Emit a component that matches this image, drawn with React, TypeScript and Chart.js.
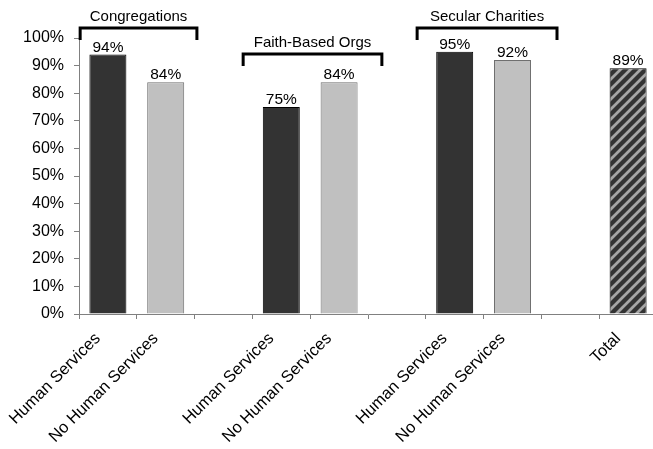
import React, { useEffect, useRef } from "react";
import { Chart, registerables } from "chart.js";

Chart.register(...registerables);

const categories = [
  "Human Services",
  "No Human Services",
  "",
  "Human Services",
  "No Human Services",
  "",
  "Human Services",
  "No Human Services",
  "",
  "Total",
];
const values: (number | null)[] = [94, 84, null, 75, 84, null, 95, 92, null, 89];
const barKinds = ["dark", "light", "none", "dark", "light", "none", "dark", "light", "none", "total"];
const groupNames = ["Congregations", "Faith-Based Orgs", "Secular Charities"];
const groupMembers = [
  [0, 1],
  [3, 4],
  [6, 7],
];
const yTicks = [0, 10, 20, 30, 40, 50, 60, 70, 80, 90, 100];

// bracket drawing layout (in category / value units)
const bracketLayout = [
  { left: 0.48, right: 0.54, level: 103.6 },
  { left: 0.66, right: 0.74, level: 94.2 },
  { left: 0.65, right: 0.77, level: 103.6 },
];

const FONT = "'Liberation Sans', Arial, sans-serif";

function makePattern(): CanvasPattern | string {
  const size = 10;
  const c = document.createElement("canvas");
  c.width = size;
  c.height = size;
  const g = c.getContext("2d");
  if (!g) return "#333";
  g.fillStyle = "#333333";
  g.fillRect(0, 0, size, size);
  g.strokeStyle = "#a6a6a6";
  g.lineWidth = 2.8;
  g.beginPath();
  g.moveTo(-2, size + 2);
  g.lineTo(size + 2, -2);
  g.moveTo(-3, 3);
  g.lineTo(3, -3);
  g.moveTo(size - 3, size + 3);
  g.lineTo(size + 3, size - 3);
  g.stroke();
  const p = g.createPattern(c, "repeat");
  return p || "#333";
}

const labelPlugin = {
  id: "valueLabels",
  afterDatasetsDraw(chart: any) {
    const ctx = chart.ctx;
    const meta = chart.getDatasetMeta(0);
    ctx.save();
    ctx.font = `15.5px ${FONT}`;
    ctx.fillStyle = "#000";
    ctx.textAlign = "center";
    ctx.textBaseline = "alphabetic";
    meta.data.forEach((el: any, i: number) => {
      const v = values[i];
      if (v == null) return;
      ctx.fillText(`${v}%`, el.x, el.y - 3);
    });
    ctx.restore();
  },
};

const bracketPlugin = {
  id: "brackets",
  afterDraw(chart: any) {
    const ctx = chart.ctx;
    const xs = chart.scales.x;
    const ys = chart.scales.y;
    const cw = xs.getPixelForValue(1) - xs.getPixelForValue(0);
    ctx.save();
    groupNames.forEach((name, gi) => {
      const [a, b] = groupMembers[gi];
      const lay = bracketLayout[gi];
      const x1 = xs.getPixelForValue(a) - lay.left * cw;
      const x2 = xs.getPixelForValue(b) + lay.right * cw;
      const yTop = ys.getPixelForValue(lay.level);
      const yBot = yTop + 12;
      ctx.strokeStyle = "#000";
      ctx.lineWidth = 3;
      ctx.lineCap = "butt";
      ctx.lineJoin = "miter";
      ctx.beginPath();
      ctx.moveTo(x1, yBot);
      ctx.lineTo(x1, yTop);
      ctx.lineTo(x2, yTop);
      ctx.lineTo(x2, yBot);
      ctx.stroke();
      ctx.font = `15px ${FONT}`;
      ctx.fillStyle = "#000";
      ctx.textAlign = "center";
      ctx.textBaseline = "alphabetic";
      ctx.fillText(name, (x1 + x2) / 2, yTop - 7);
    });
    ctx.restore();
  },
};

export default function App() {
  const ref = useRef<HTMLCanvasElement>(null);
  useEffect(() => {
    if (!ref.current) return;
    const pattern = makePattern();
    const bg = barKinds.map((k) => (k === "dark" ? "#333333" : k === "light" ? "#c0c0c0" : k === "total" ? pattern : "transparent"));
    const bc = barKinds.map((k) => (k === "light" ? "#6f6f6f" : "#000000"));
    const chart = new Chart(ref.current, {
      type: "bar",
      data: {
        labels: categories,
        datasets: [
          {
            data: values as any,
            backgroundColor: bg as any,
            borderColor: bc,
            borderWidth: 1,
            barPercentage: 0.64,
            categoryPercentage: 1,
          },
        ],
      },
      options: {
        animation: false,
        responsive: false,
        maintainAspectRatio: false,
        layout: { padding: { left: 22, top: 38, right: 8, bottom: 0 } },
        plugins: { legend: { display: false }, tooltip: { enabled: false } },
        scales: {
          x: {
            grid: {
              display: true,
              drawOnChartArea: false,
              drawTicks: true,
              tickLength: 5,
              color: "#808080",
              offset: true,
            },
            border: { display: true, color: "#808080", width: 1 },
            ticks: {
              color: "#000",
              font: { family: FONT, size: 16.5 },
              minRotation: 45,
              maxRotation: 45,
              autoSkip: false,
              padding: 10,
              labelOffset: -10,
            },
            afterFit(s: any) {
              s.height = 135;
            },
          },
          y: {
            min: 0,
            max: 100,
            afterBuildTicks(s: any) {
              s.ticks = yTicks.map((v) => ({ value: v }));
            },
            grid: {
              display: true,
              drawOnChartArea: false,
              drawTicks: true,
              tickLength: 5,
              color: "#808080",
            },
            border: { display: true, color: "#808080", width: 1 },
            ticks: {
              color: "#000",
              font: { family: FONT, size: 16 },
              padding: 10,
              callback: (v: any) => `${v}%`,
            },
            afterFit(s: any) {
              s.width = 57;
            },
          },
        },
      },
      plugins: [labelPlugin, bracketPlugin],
    });
    return () => chart.destroy();
  }, []);
  return (
    <div
      style={{
        position: "fixed",
        left: 0,
        top: 0,
        width: 653,
        height: 449,
        overflow: "hidden",
        background: "#fff",
      }}
    >
      <canvas ref={ref} width={665} height={449} style={{ display: "block" }} />
    </div>
  );
}
